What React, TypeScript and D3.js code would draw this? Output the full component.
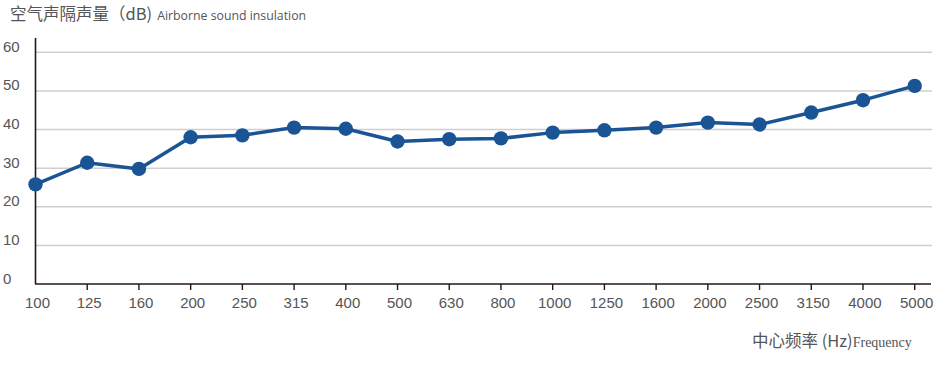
import React, { useEffect, useRef } from 'react';
import * as d3 from 'd3';

const frequencies = ['100', '125', '160', '200', '250', '315', '400', '500', '630', '800', '1000', '1250', '1600', '2000', '2500', '3150', '4000', '5000'];
const insulation = [25.8, 31.4, 29.8, 38.0, 38.5, 40.5, 40.2, 36.9, 37.5, 37.7, 39.2, 39.8, 40.5, 41.8, 41.3, 44.4, 47.6, 51.3];
const yTicks = [0, 10, 20, 30, 40, 50, 60];

const W = 937;
const H = 367;

const App = () => {
    const svgRef = useRef<SVGSVGElement>(null);

    useEffect(() => {
        const svg = d3.select(svgRef.current);
        svg.selectAll('*').remove();

        const x = d3.scalePoint().domain(frequencies).range([35.5, 914.7]);
        const y = d3.scaleLinear().domain([0, 60]).range([284, 52.3]);
        const sans = '"Liberation Sans", Arial, sans-serif';
        const cjk = '"Noto Sans CJK SC", sans-serif';

        // grid
        svg.append('g')
            .selectAll('line')
            .data(yTicks.filter(d => d > 0))
            .enter()
            .append('line')
            .attr('x1', 36).attr('x2', 932)
            .attr('y1', d => y(d)).attr('y2', d => y(d))
            .attr('stroke', '#cfcfcf')
            .attr('stroke-width', 1.5);

        // y labels
        svg.append('g')
            .selectAll('text')
            .data(yTicks)
            .enter()
            .append('text')
            .attr('x', 3)
            .attr('y', d => y(d) - 0.5)
            .attr('fill', '#555')
            .style('font-family', sans)
            .style('font-size', '15px')
            .text(d => d);

        // axes
        svg.append('line')
            .attr('x1', 35.5).attr('x2', 35.5)
            .attr('y1', 38).attr('y2', 284)
            .attr('stroke', '#231815').attr('stroke-width', 1.6);
        svg.append('line')
            .attr('x1', 35).attr('x2', 931)
            .attr('y1', 284).attr('y2', 284)
            .attr('stroke', '#231815').attr('stroke-width', 1.6);

        // x ticks + labels
        const xt = svg.append('g');
        xt.selectAll('line')
            .data(frequencies.slice(1))
            .enter()
            .append('line')
            .attr('x1', d => x(d)!).attr('x2', d => x(d)!)
            .attr('y1', 284).attr('y2', 290)
            .attr('stroke', '#231815').attr('stroke-width', 1.4);
        xt.selectAll('text')
            .data(frequencies)
            .enter()
            .append('text')
            .attr('x', d => x(d)! + 2)
            .attr('y', 308)
            .attr('text-anchor', 'middle')
            .attr('fill', '#555')
            .style('font-family', sans)
            .style('font-size', '15px')
            .text(d => d);

        // line + points
        const line = d3.line<number>()
            .x((d, i) => x(frequencies[i])!)
            .y(d => y(d));

        svg.append('path')
            .attr('d', line(insulation))
            .attr('fill', 'none')
            .attr('stroke', '#1a5494')
            .attr('stroke-width', 3.5)
            .attr('stroke-linejoin', 'round');

        svg.append('g')
            .selectAll('circle')
            .data(insulation)
            .enter()
            .append('circle')
            .attr('cx', (d, i) => x(frequencies[i])!)
            .attr('cy', d => y(d))
            .attr('r', 7.2)
            .attr('fill', '#1a5494');

        // titles
        const t1 = svg.append('text').attr('x', 10).attr('y', 20).attr('fill', '#555');
        t1.append('tspan').style('font-family', cjk).style('font-size', '16.5px').text('空气声隔声量（dB)');
        t1.append('tspan').attr('dx', 5).style('font-family', '"Open Sans", sans-serif').style('font-size', '12.3px').text('Airborne sound insulation');

        const t2 = svg.append('text').attr('x', 752).attr('y', 347).attr('fill', '#555');
        t2.append('tspan').style('font-family', cjk).style('font-size', '16.5px').text('中心频率 (Hz)');
        t2.append('tspan').style('font-family', '"Liberation Serif", serif').style('font-size', '14px').text('Frequency');
    }, []);

    return (
        <svg ref={svgRef} width={W} height={H} style={{ position: 'absolute', left: 0, top: 0, background: '#fff' }}></svg>
    );
};

export default App;
